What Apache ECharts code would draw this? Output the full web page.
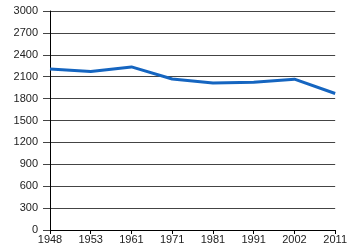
<!DOCTYPE html>
<html><head><meta charset="utf-8">
<script src="https://cdn.jsdelivr.net/npm/echarts@6/dist/echarts.min.js"></script>
<style>html,body{margin:0;padding:0;background:#fff}#c{width:350px;height:250px}</style>
</head><body><div id="c"></div>
<script>
var years = ['1948','1953','1961','1971','1981','1991','2002','2011'];
var population = [2205, 2172, 2234, 2068, 2013, 2025, 2066, 1870];
var yMin = 0, yMax = 3000, yStep = 300;

var chart = echarts.init(document.getElementById('c'), null, {renderer:'canvas'});
chart.setOption({
  animation:false,
  backgroundColor:'#fff',
  grid:{left:50, right:14, top:11, bottom:20, containLabel:false},
  xAxis:{
    type:'category', data:years, boundaryGap:false,
    axisLine:{lineStyle:{color:'#000', width:1}},
    axisTick:{show:true, length:4, alignWithLabel:true, lineStyle:{color:'#000'}},
    axisLabel:{color:'#222', fontFamily:'Liberation Sans', fontSize:11, margin:4, interval:0},
    splitLine:{show:false}
  },
  yAxis:{
    type:'value', min:yMin, max:yMax, interval:yStep,
    axisLine:{show:true, lineStyle:{color:'#000', width:1}},
    axisTick:{show:true, length:7, lineStyle:{color:'#444'}},
    axisLabel:{color:'#222', fontFamily:'Liberation Sans', fontSize:11, margin:12,
      formatter:function(v){return String(v);}},
    splitLine:{show:true, lineStyle:{color:'#444', width:1}}
  },
  series:[{
    type:'line', data:population, symbol:'none',
    lineStyle:{color:'#1565c0', width:3},
    itemStyle:{color:'#1565c0'}
  }]
});
</script></body></html>
